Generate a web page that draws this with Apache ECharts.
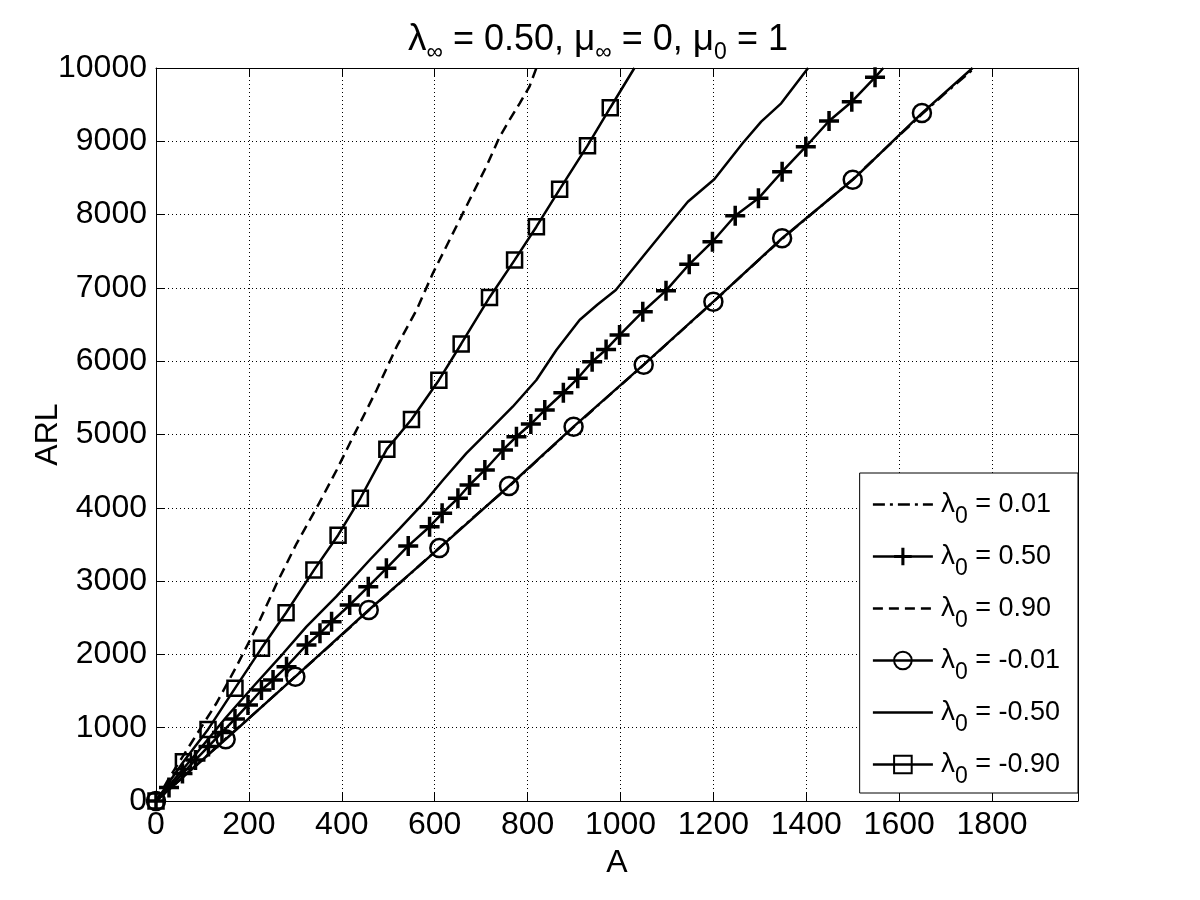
<!DOCTYPE html>
<html>
<head>
<meta charset="utf-8">
<script src="https://cdn.jsdelivr.net/npm/echarts@6/dist/echarts.min.js"></script>
<style>
  html, body { margin: 0; padding: 0; background: #fff; }
  #main { width: 1200px; height: 900px; }
</style>
</head>
<body>
<div id="main"></div>
<script>
// ARL vs A, one array of [A, ARL] per lambda_0
const lambda0Labels = ['0.01', '0.50', '0.90', '-0.01', '-0.50', '-0.90'];

const arlLam001 = [[0, 0], [75, 420], [150, 850], [225, 1270], [300, 1700], [380, 2150], [458, 2600],
  [535, 3030], [610, 3455], [685, 3880], [760, 4290], [830, 4700], [899, 5100], [975, 5530],
  [1050, 5950], [1125, 6380], [1200, 6810], [1275, 7250], [1348, 7670], [1425, 8080],
  [1500, 8480], [1575, 8930], [1649, 9370], [1700, 9660], [1762, 10000]];

// '+' markers, last point has no marker
const arlLam050 = [[0, 0], [28, 185], [57, 375], [85, 560], [113, 745], [142, 935], [170, 1120],
  [198, 1310], [227, 1514], [252, 1651], [281, 1832], [324, 2128], [353, 2288], [378, 2446],
  [417, 2674], [457, 2924], [496, 3175], [543, 3480], [589, 3742], [616, 3925], [650, 4130],
  [675, 4311], [708, 4516], [747, 4789], [776, 4970], [807, 5143], [837, 5334], [877, 5570],
  [908, 5767], [939, 5993], [969, 6160], [998, 6357], [1048, 6675], [1098, 6962], [1148, 7322],
  [1198, 7630], [1247, 7985], [1297, 8222], [1348, 8585], [1399, 8926], [1449, 9277],
  [1498, 9540], [1548, 9873], [1566, 10000]];

const arlLam090 = [[0, 0], [30, 332], [80, 832], [130, 1333], [173, 1832], [217, 2378], [260, 2970],
  [303, 3516], [351, 4060], [389, 4516], [428, 5016], [475, 5607], [518, 6198], [561, 6700],
  [596, 7199], [632, 7653], [675, 8199], [711, 8654], [740, 9063], [761, 9290], [783, 9518],
  [804, 9745], [819, 10000]];

// circle markers, last point has no marker
const arlLamM001 = [[0, 0], [150, 842], [300, 1696], [458, 2606], [610, 3450], [760, 4297],
  [899, 5107], [1050, 5953], [1200, 6812], [1348, 7677], [1500, 8475], [1649, 9385], [1758, 10000]];

const arlLamM050 = [[0, 0], [87, 651], [152, 1150], [209, 1559], [274, 2015], [324, 2378],
  [388, 2787], [460, 3288], [525, 3720], [582, 4106], [618, 4379], [668, 4743], [711, 5016],
  [768, 5379], [819, 5744], [862, 6153], [912, 6562], [950, 6770], [990, 6971], [1048, 7426],
  [1098, 7813], [1145, 8176], [1202, 8482], [1263, 8973], [1303, 9268], [1346, 9518], [1404, 10000]];

// square markers, last point has no marker
const arlLamM090 = [[0, 0], [59, 536], [112, 977], [170, 1537], [227, 2083], [280, 2568],
  [340, 3150], [392, 3626], [440, 4130], [497, 4800], [550, 5205], [609, 5741], [657, 6235],
  [718, 6870], [772, 7379], [819, 7835], [869, 8345], [929, 8940], [978, 9458], [1030, 10000]];

const xTicks = { min: 0, max: 1985, interval: 200 };
const yTicks = { min: 0, max: 10000, interval: 1000 };

const FONT = '"Liberation Sans", Arial, Helvetica, sans-serif';
const names = lambda0Labels.map(function (v) { return 'λ0 = ' + v; });

const plusPath = 'path://M8.25,0h3.5v8.25h8.25v3.5h-8.25v8.25h-3.5v-8.25h-8.25v-3.5h8.25z';

function lastWithoutMarker(points) {
  return points.map(function (p, i) {
    return i === points.length - 1 ? { value: p, symbol: 'none' } : p;
  });
}

function lineSeries(name, data, dash, extra) {
  const s = {
    name: name,
    type: 'line',
    data: data,
    symbol: 'none',
    lineStyle: { color: '#000', width: 2.5, type: dash },
    itemStyle: { color: '#000' },
    animation: false
  };
  return Object.assign(s, extra || {});
}

const hollow = { color: 'rgba(255,255,255,0)', borderColor: '#000', borderWidth: 2.5 };

// subscript: small lineHeight so it does not grow the line, top padding pushes it down
function richText(size, lineH, subSize, subDrop) {
  return {
    n: { fontFamily: FONT, fontSize: size, lineHeight: lineH, color: '#000', fontWeight: 'normal' },
    l: { fontFamily: FONT, fontSize: size + 1, lineHeight: lineH, color: '#000', fontWeight: 'normal' },
    s: {
      fontFamily: FONT, fontSize: subSize, lineHeight: 10, color: '#000', fontWeight: 'normal',
      verticalAlign: 'middle', padding: [subDrop * 2, 0, 0, 0]
    }
  };
}

const chart = echarts.init(document.getElementById('main'));

const option = {
  backgroundColor: '#fff',
  animation: false,
  title: {
    text: '{l|λ}{s|∞}{n| = 0.50, }{l|μ}{s|∞}{n| = 0, }{l|μ}{s|0}{n| = 1}',
    left: 598,
    top: 18,
    padding: 0,
    textAlign: 'center',
    textStyle: { fontWeight: 'normal', rich: richText(36, 44, 23, 13) }
  },
  grid: { left: 156, right: 122, top: 68, bottom: 99 },
  xAxis: [{
    type: 'value',
    min: xTicks.min,
    max: xTicks.max,
    interval: xTicks.interval,
    name: 'A',
    nameLocation: 'middle',
    nameGap: 46,
    nameTextStyle: { fontFamily: FONT, fontSize: 32, color: '#000' },
    axisLine: { onZero: false, lineStyle: { color: '#000', width: 1 } },
    axisTick: { inside: true, length: 8, lineStyle: { color: '#000' } },
    axisLabel: {
      fontFamily: FONT, fontSize: 32, color: '#000', margin: 8,
      formatter: function (v) { return v % 200 === 0 ? String(v) : ''; }
    },
    splitLine: { show: true, lineStyle: { color: '#000', width: 1, type: [1, 3] } }
  }, {
    type: 'value',
    position: 'top',
    min: xTicks.min,
    max: xTicks.max,
    interval: xTicks.interval,
    axisLine: { onZero: false, lineStyle: { color: '#000', width: 1 } },
    axisTick: { inside: true, length: 8, lineStyle: { color: '#000' } },
    axisLabel: { show: false },
    splitLine: { show: false }
  }],
  yAxis: [{
    type: 'value',
    min: yTicks.min,
    max: yTicks.max,
    interval: yTicks.interval,
    name: 'ARL',
    nameLocation: 'middle',
    nameGap: 92,
    nameMoveOverlap: false,
    nameTextStyle: { fontFamily: FONT, fontSize: 32, color: '#000' },
    axisLine: { onZero: false, lineStyle: { color: '#000', width: 1 } },
    axisTick: { inside: true, length: 8, lineStyle: { color: '#000' } },
    axisLabel: {
      fontFamily: FONT, fontSize: 32, color: '#000', margin: 9,
      formatter: function (v) { return String(v); }
    },
    splitLine: { show: true, lineStyle: { color: '#000', width: 1, type: [1, 3] } }
  }, {
    type: 'value',
    position: 'right',
    min: yTicks.min,
    max: yTicks.max,
    interval: yTicks.interval,
    axisLine: { onZero: false, lineStyle: { color: '#000', width: 1 } },
    axisTick: { inside: true, length: 8, lineStyle: { color: '#000' } },
    axisLabel: { show: false },
    splitLine: { show: false }
  }],
  legend: {
    orient: 'vertical',
    right: 122,
    top: 473,
    padding: [8, 18, 5, 12],
    itemWidth: 60,
    itemHeight: 22,
    itemGap: 5,
    selectedMode: false,
    backgroundColor: '#fff',
    borderColor: '#000',
    borderWidth: 1,
    borderRadius: 0,
    lineStyle: { width: 2.5 },
    data: [
      { name: names[0], itemStyle: { opacity: 0, borderWidth: 0 } },
      { name: names[1] },
      { name: names[2], itemStyle: { opacity: 0, borderWidth: 0 } },
      { name: names[3] },
      { name: names[4], itemStyle: { opacity: 0, borderWidth: 0 } },
      { name: names[5] }
    ],
    formatter: function (name) {
      return '{l|λ}{s|0}{n| = ' + name.split(' = ')[1] + '}';
    },
    textStyle: { padding: [0, 0, 0, 3], rich: richText(27, 34, 23, 12) }
  },
  series: [
    lineSeries(names[0], arlLam001, [12, 5, 3, 5]),
    lineSeries(names[1], lastWithoutMarker(arlLam050), 'solid', {
      symbol: plusPath, symbolSize: 20, showAllSymbol: true,
      itemStyle: { color: '#000', borderWidth: 0 }
    }),
    lineSeries(names[2], arlLam090, [10, 6]),
    lineSeries(names[3], lastWithoutMarker(arlLamM001), 'solid', {
      symbol: 'circle', symbolSize: 18, showAllSymbol: true, itemStyle: hollow
    }),
    lineSeries(names[4], arlLamM050, 'solid'),
    lineSeries(names[5], lastWithoutMarker(arlLamM090), 'solid', {
      symbol: 'rect', symbolSize: 15, showAllSymbol: true, itemStyle: hollow
    })
  ]
};

chart.setOption(option);
</script>
</body>
</html>
